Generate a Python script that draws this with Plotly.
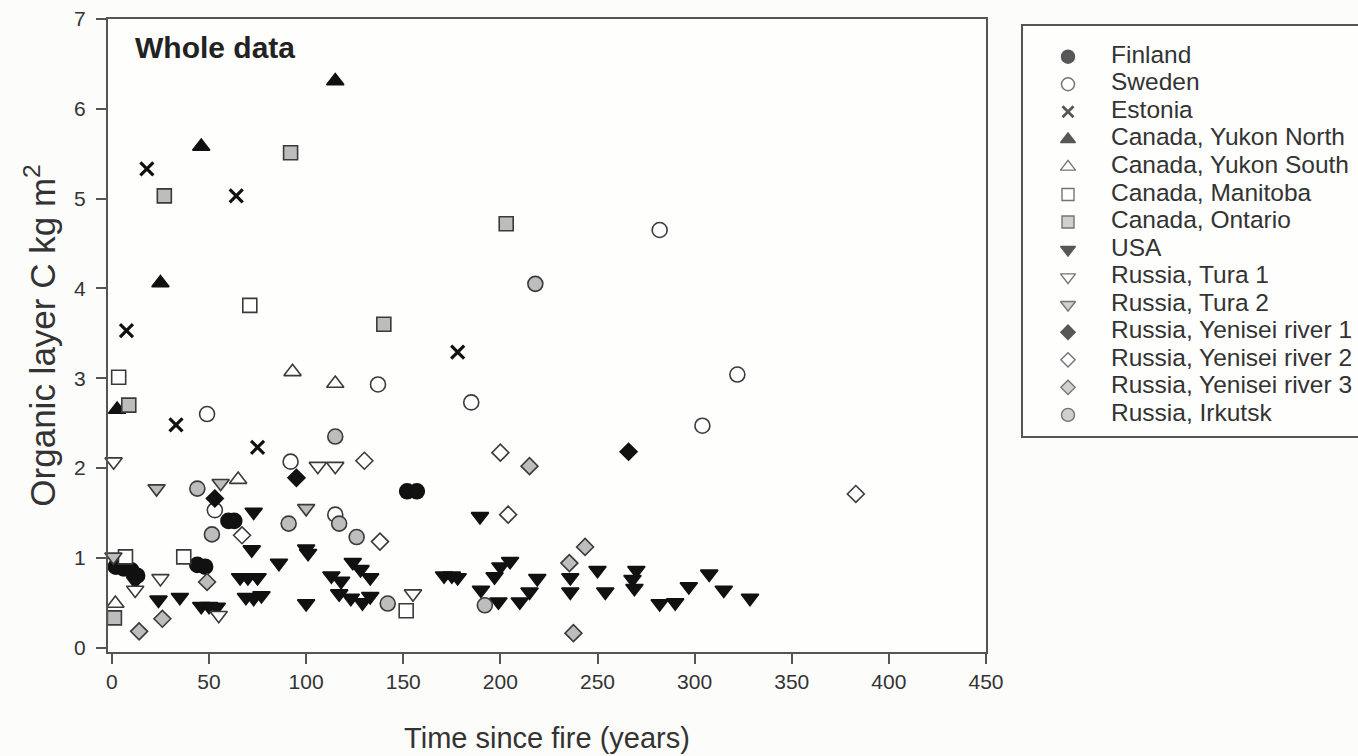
import plotly.graph_objects as go

# ---- data: time since fire (years) and organic-layer C (kg m-2) per region ----
finland_x = [2, 6, 10, 13, 44, 48, 60, 63, 152, 157]
finland_y = [0.90, 0.88, 0.86, 0.80, 0.92, 0.90, 1.41, 1.41, 1.74, 1.74]

sweden_x = [49, 53, 92, 115, 137, 185, 282, 304, 322]
sweden_y = [2.60, 1.53, 2.07, 1.48, 2.93, 2.73, 4.65, 2.47, 3.04]

estonia_x = [7.5, 18, 33, 64, 75, 178]
estonia_y = [3.53, 5.33, 2.48, 5.03, 2.23, 3.29]

yukon_n_x = [2.7, 25, 46, 115]
yukon_n_y = [2.65, 4.06, 5.58, 6.31]

yukon_s_x = [1.8, 65, 93, 115]
yukon_s_y = [0.49, 1.87, 3.07, 2.94]

manitoba_x = [3.5, 7, 37, 71, 151.5]
manitoba_y = [3.01, 1.01, 1.01, 3.81, 0.41]

ontario_x = [1.3, 8.7, 27, 92, 140, 203]
ontario_y = [0.33, 2.70, 5.03, 5.51, 3.60, 4.72]

usa_x = [12, 24, 35, 46, 50, 54, 66, 70, 75, 69, 73, 77, 73, 72, 86, 100, 101, 100,
         113, 118, 124, 128, 133, 117, 123, 129, 133,
         171, 175, 178, 190, 189.5, 197, 200, 205, 199, 210, 215, 219, 236, 236,
         250, 254, 270, 268, 269, 282, 290, 297, 307.5, 315, 328.5]
usa_y = [0.74, 0.53, 0.56, 0.46, 0.46, 0.45, 0.78, 0.78, 0.78, 0.56, 0.55, 0.58, 1.51, 1.09, 0.94, 1.10, 1.05, 0.49,
         0.80, 0.74, 0.95, 0.87, 0.78, 0.60, 0.55, 0.50, 0.57,
         0.80, 0.80, 0.78, 0.64, 1.46, 0.79, 0.90, 0.96, 0.51, 0.51, 0.62, 0.77, 0.78, 0.62,
         0.86, 0.62, 0.86, 0.76, 0.66, 0.49, 0.50, 0.68, 0.82, 0.64, 0.55]

tura1_x = [0.9, 12, 25, 55, 106, 115, 155]
tura1_y = [2.07, 0.64, 0.77, 0.36, 2.02, 2.02, 0.60]

tura2_x = [0.8, 23, 56, 100]
tura2_y = [1.01, 1.77, 1.83, 1.55]

yenisei1_x = [53, 95, 266]
yenisei1_y = [1.66, 1.89, 2.18]

yenisei2_x = [67, 130, 138, 200, 204, 383]
yenisei2_y = [1.25, 2.08, 1.18, 2.17, 1.48, 1.71]

yenisei3_x = [14, 26, 49, 215, 235.5, 237.6, 243.6]
yenisei3_y = [0.18, 0.32, 0.73, 2.02, 0.94, 0.16, 1.12]

irkutsk_x = [44, 51.5, 91, 115, 117, 126, 142, 192, 218]
irkutsk_y = [1.77, 1.26, 1.38, 2.35, 1.38, 1.23, 0.49, 0.47, 4.05]

region_names = ["Finland", "Sweden", "Estonia", "Canada, Yukon North", "Canada, Yukon South",
                "Canada, Manitoba", "Canada, Ontario", "USA", "Russia, Tura 1", "Russia, Tura 2",
                "Russia, Yenisei river 1", "Russia, Yenisei river 2", "Russia, Yenisei river 3",
                "Russia, Irkutsk"]
region_x = [finland_x, sweden_x, estonia_x, yukon_n_x, yukon_s_x, manitoba_x, ontario_x,
            usa_x, tura1_x, tura2_x, yenisei1_x, yenisei2_x, yenisei3_x, irkutsk_x]
region_y = [finland_y, sweden_y, estonia_y, yukon_n_y, yukon_s_y, manitoba_y, ontario_y,
            usa_y, tura1_y, tura2_y, yenisei1_y, yenisei2_y, yenisei3_y, irkutsk_y]

x_ticks = [0, 50, 100, 150, 200, 250, 300, 350, 400, 450]
y_ticks = [0, 1, 2, 3, 4, 5, 6, 7]

# ---- marker styles ----
BLACK = "#111111"
GREY = "#bdbdbd"
WHITE = "#ffffff"
EDGE = "#3a3a3a"
symbols = ["circle", "circle", "x-thin", "triangle-up", "triangle-up", "square", "square",
           "triangle-down", "triangle-down", "triangle-down", "diamond", "diamond", "diamond", "circle"]
fills = [BLACK, WHITE, BLACK, BLACK, WHITE, WHITE, GREY, BLACK, WHITE, GREY, BLACK, WHITE, GREY, GREY]
edges = [BLACK, EDGE, BLACK, BLACK, EDGE, EDGE, EDGE, BLACK, EDGE, EDGE, BLACK, EDGE, EDGE, EDGE]
sizes = {"circle": 15, "x-thin": 13, "triangle-up": 15, "triangle-down": 15, "square": 14, "diamond": 13}

fig = go.Figure()

for name, xs, ys, sym, fc, ec in zip(region_names, region_x, region_y, symbols, fills, edges):
    lw = 3.2 if sym == "x-thin" else 1.6
    fig.add_trace(go.Scatter(
        x=xs, y=ys, mode="markers", name=name, showlegend=False,
        marker=dict(symbol=sym, size=sizes[sym], color=fc, line=dict(color=ec, width=lw)),
        xaxis="x", yaxis="y", cliponaxis=False,
    ))

# ---- key panel: one row per region ----
rows = list(range(len(region_names)))
leg_sizes = [int(round(sizes[s] * 0.85)) for s in symbols]
leg_widths = [2.8 if s == "x-thin" else 1.4 for s in symbols]
fig.add_trace(go.Scatter(
    x=[46] * len(rows), y=rows, mode="markers", showlegend=False, hoverinfo="skip",
    marker=dict(symbol=symbols, size=leg_sizes, color=fills, line=dict(color=edges, width=leg_widths)),
    xaxis="x2", yaxis="y2",
))
fig.add_trace(go.Scatter(
    x=[89] * len(rows), y=rows, mode="text", text=region_names, textposition="middle right",
    textfont=dict(family="Liberation Sans, Arial, sans-serif", size=24.5, color="#333333"),
    showlegend=False, hoverinfo="skip", xaxis="x2", yaxis="y2",
))

axis_style = dict(
    showline=True, linecolor="#555555", linewidth=2, mirror=True,
    ticks="outside", ticklen=10, tickwidth=2, tickcolor="#555555",
    showgrid=False, zeroline=False, automargin=False,
    tickfont=dict(family="Liberation Sans, Arial, sans-serif", size=21, color="#333333"),
)

fig.update_layout(
    width=1358, height=756, autosize=False,
    margin=dict(l=108, r=0, t=19, b=104, autoexpand=False),
    paper_bgcolor="#fcfcfa", plot_bgcolor="#fefefd",
    font=dict(family="Liberation Sans, Arial, sans-serif", color="#333333"),
    xaxis=dict(domain=[0, 0.7024], range=[-2, 450], tickvals=x_ticks, **axis_style,
               title=dict(text="Time since fire (years)", standoff=35,
                          font=dict(family="Liberation Sans, Arial", size=29))),
    yaxis=dict(range=[-0.05, 7], tickvals=y_ticks, ticklabelstandoff=6, **axis_style,
               title=dict(text="Organic layer C kg m<sup>2</sup>", standoff=8,
                          font=dict(family="Liberation Sans, Arial", size=35))),
    xaxis2=dict(domain=[0.7312, 1.0], range=[0, 336], visible=False, automargin=False),
    yaxis2=dict(domain=[0.3397, 0.9905], range=[13.8, -1.15], visible=False, automargin=False),
    shapes=[dict(type="rect", xref="paper", yref="paper", x0=0.7312, x1=1.02, y0=0.3397, y1=0.9905,
                 line=dict(color="#555555", width=2), fillcolor="rgba(0,0,0,0)")],
    annotations=[dict(text="<b>Whole data</b>", xref="x domain", yref="y domain", x=0.028, y=0.955,
                      xanchor="left", yanchor="middle", showarrow=False,
                      font=dict(family="Liberation Sans, Arial", size=30, color="#222222"))],
)

fig.write_html("out.html")
